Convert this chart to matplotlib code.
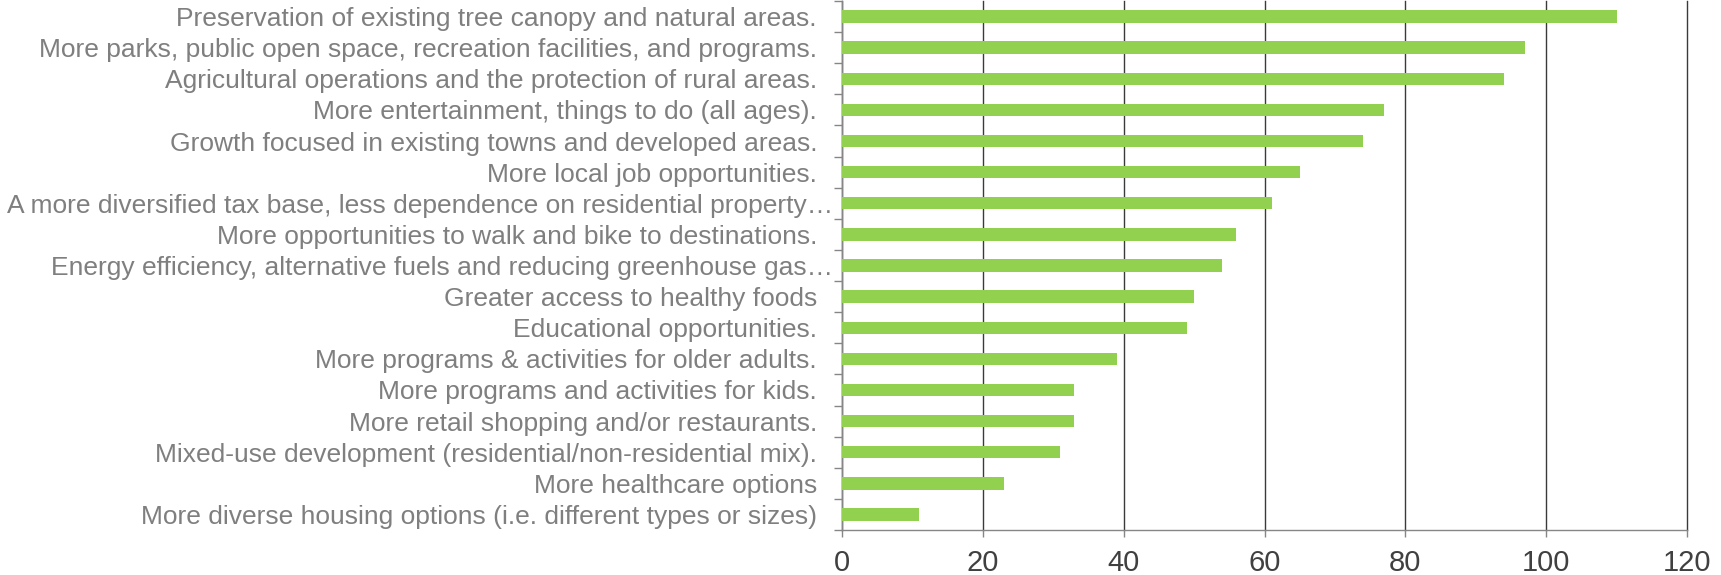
import matplotlib
matplotlib.use("Agg")
import matplotlib.pyplot as plt
import matplotlib.transforms as mtransforms
import numpy as np

categories = [
    "Preservation of existing tree canopy and natural areas.",
    "More parks, public open space, recreation facilities, and programs.",
    "Agricultural operations and the protection of rural areas.",
    "More entertainment, things to do (all ages).",
    "Growth focused in existing towns and developed areas.",
    "More local job opportunities.",
    "A more diversified tax base, less dependence on residential property…",
    "More opportunities to walk and bike to destinations.",
    "Energy efficiency, alternative fuels and reducing greenhouse gas…",
    "Greater access to healthy foods",
    "Educational opportunities.",
    "More programs & activities for older adults.",
    "More programs and activities for kids.",
    "More retail shopping and/or restaurants.",
    "Mixed-use development (residential/non-residential mix).",
    "More healthcare options",
    "More diverse housing options (i.e. different types or sizes)",
]
values = [110, 97, 94, 77, 74, 65, 61, 56, 54, 50, 49, 39, 33, 33, 31, 23, 11]
xticks = [0, 20, 40, 60, 80, 100, 120]

plt.rcParams['font.family'] = ['Liberation Sans', 'DejaVu Sans']

fig = plt.figure(figsize=(17.21, 5.75), dpi=100)
ax = fig.add_axes([842/1721, 1 - 530/575, (1687-842)/1721, 529/575])

y = np.arange(len(categories))
ax.barh(y, values, height=0.4, color="#92D050", zorder=3)

ax.set_xlim(0, 120)
ax.set_ylim(len(categories) - 0.5, -0.5)
ax.set_xticks(xticks)
ax.set_xticklabels([str(t) for t in xticks], fontsize=21, color="#404040")
ax.set_yticks(y)
ax.set_yticklabels(categories, fontsize=19, color="#7f7f7f")
ax.set_yticks(np.arange(-0.5, len(categories), 1), minor=True)
ax.tick_params(axis='y', which='major', length=0, pad=18)
ax.tick_params(axis='y', which='minor', length=6, color="#868686", width=1)
ax.tick_params(axis='x', which='major', length=5, color="#868686", width=1, pad=9)

# truncated labels sit a little further right, as in the reference
shift = mtransforms.ScaledTranslation(16/100, 0, fig.dpi_scale_trans)
for lbl in ax.get_yticklabels():
    if lbl.get_text().endswith("…"):
        lbl.set_transform(lbl.get_transform() + shift)

ax.grid(axis='x', color="#3a3a3a", linewidth=1, zorder=0)
for line in ax.get_xgridlines():
    line.set_clip_on(False)
for s in ['top', 'right']:
    ax.spines[s].set_visible(False)
ax.spines['left'].set_color("#868686")
ax.spines['bottom'].set_color("#868686")
ax.spines['left'].set_linewidth(1)
ax.spines['bottom'].set_linewidth(1)

fig.savefig("out.png", dpi=100)
